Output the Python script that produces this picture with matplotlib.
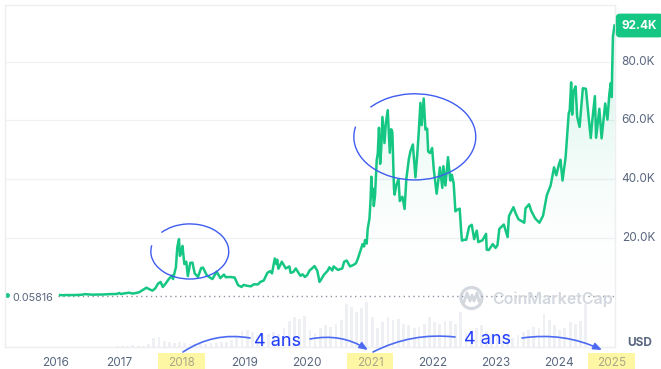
"""
Bitcoin all-time price chart (CoinMarketCap style) with hand-drawn cycle notes.
"""

import numpy as np
import pandas as pd
import matplotlib
matplotlib.use('Agg')
import matplotlib.pyplot as plt
from matplotlib.patches import Arc, Ellipse, Rectangle
from matplotlib.colors import LinearSegmentedColormap
from matplotlib.transforms import blended_transform_factory

plt.rcParams['font.family'] = ['Inter', 'DejaVu Sans']

# ---- data (price in thousands of USD) ----
dates = [
    "2016-01-25", "2016-02-10", "2016-03-01", "2016-04-01", "2016-05-01", "2016-06-01", "2016-06-17",
    "2016-07-01", "2016-08-02", "2016-09-01", "2016-10-01", "2016-11-01", "2016-12-01", "2016-12-20",
    "2017-01-04", "2017-01-12", "2017-02-01", "2017-03-01", "2017-03-24", "2017-04-15", "2017-05-01",
    "2017-05-25", "2017-06-11", "2017-06-27", "2017-07-16", "2017-08-01", "2017-08-17", "2017-09-01",
    "2017-09-14", "2017-10-01", "2017-10-20", "2017-11-07", "2017-11-12", "2017-11-29", "2017-12-07",
    "2017-12-17", "2017-12-22", "2017-12-28",
    "2018-01-06", "2018-01-17", "2018-01-28", "2018-02-06", "2018-02-20", "2018-03-05", "2018-03-18",
    "2018-04-06", "2018-04-24", "2018-05-05", "2018-05-28", "2018-06-12", "2018-06-29", "2018-07-24",
    "2018-08-14", "2018-09-04", "2018-09-15", "2018-10-10", "2018-11-05", "2018-11-25", "2018-12-15",
    "2018-12-28",
    "2019-01-15", "2019-02-07", "2019-02-24", "2019-03-20", "2019-04-03", "2019-04-23", "2019-05-14",
    "2019-05-30", "2019-06-10", "2019-06-26", "2019-07-05", "2019-07-10", "2019-07-17", "2019-08-06",
    "2019-08-29", "2019-09-19", "2019-09-26", "2019-10-12", "2019-10-26", "2019-11-22", "2019-12-05",
    "2019-12-18", "2019-12-31",
    "2020-01-14", "2020-02-12", "2020-02-28", "2020-03-12", "2020-03-22", "2020-04-06", "2020-04-29",
    "2020-05-08", "2020-05-25", "2020-06-02", "2020-06-27", "2020-07-22", "2020-08-02", "2020-08-17",
    "2020-09-05", "2020-09-25", "2020-10-10", "2020-10-21", "2020-11-05", "2020-11-17", "2020-11-26",
    "2020-12-01", "2020-12-11", "2020-12-17", "2020-12-27",
    "2021-01-03", "2021-01-08", "2021-01-12", "2021-01-16", "2021-01-22", "2021-01-29", "2021-02-08",
    "2021-02-14", "2021-02-21", "2021-02-28", "2021-03-07", "2021-03-13", "2021-03-25", "2021-04-02",
    "2021-04-13", "2021-04-25", "2021-05-03", "2021-05-10", "2021-05-13", "2021-05-19", "2021-05-23",
    "2021-06-02", "2021-06-15", "2021-06-22", "2021-07-07", "2021-07-20", "2021-07-30", "2021-08-14",
    "2021-08-23", "2021-09-06", "2021-09-21", "2021-10-01", "2021-10-09", "2021-10-20", "2021-10-27",
    "2021-11-08", "2021-11-18", "2021-11-28", "2021-12-04", "2021-12-15", "2021-12-27",
    "2022-01-05", "2022-01-22", "2022-02-10", "2022-02-24", "2022-03-02", "2022-03-14", "2022-03-29",
    "2022-04-11", "2022-04-20", "2022-05-01", "2022-05-11", "2022-05-20", "2022-06-05", "2022-06-13",
    "2022-06-18", "2022-07-01", "2022-07-13", "2022-07-30", "2022-08-14", "2022-08-28", "2022-09-12",
    "2022-09-21", "2022-10-15", "2022-11-05", "2022-11-09", "2022-11-21", "2022-12-14", "2022-12-30",
    "2023-01-10", "2023-01-21", "2023-02-16", "2023-03-10", "2023-03-18", "2023-04-13", "2023-04-26",
    "2023-05-12", "2023-06-15", "2023-06-22", "2023-07-13", "2023-07-25", "2023-08-17", "2023-09-11",
    "2023-10-02", "2023-10-24", "2023-11-15", "2023-12-05", "2023-12-18",
    "2024-01-02", "2024-01-11", "2024-01-23", "2024-02-10", "2024-02-28", "2024-03-05", "2024-03-13",
    "2024-03-19", "2024-03-27", "2024-04-08", "2024-04-17", "2024-05-01", "2024-05-20", "2024-06-07",
    "2024-06-24", "2024-07-05", "2024-07-14", "2024-07-29", "2024-08-05", "2024-08-24", "2024-09-06",
    "2024-09-17", "2024-09-27", "2024-10-10", "2024-10-21", "2024-10-29", "2024-11-04", "2024-11-06",
    "2024-11-11", "2024-11-20",
]
prices = [
    0.43, 0.37, 0.43, 0.42, 0.45, 0.54, 0.75,
    0.67, 0.55, 0.61, 0.61, 0.73, 0.75, 0.80,
    1.13, 0.78, 0.98, 1.22, 0.94, 1.18, 1.42,
    2.3, 2.95, 2.42, 1.93, 2.72, 4.3, 4.9,
    3.2, 4.4, 6.0, 7.1, 5.9, 9.9, 16.7,
    19.5, 13.8, 14.5,
    17.2, 11.0, 11.8, 6.9, 11.4, 11.5, 7.8,
    6.6, 9.6, 9.8, 7.1, 6.5, 5.9, 8.4,
    6.2, 7.4, 6.5, 6.6, 6.4, 3.8, 3.2,
    3.9,
    3.6, 3.4, 4.1, 4.05, 4.9, 5.4, 8.0,
    8.6, 7.8, 12.9, 11.0, 12.5, 9.4, 11.8,
    9.5, 10.2, 8.0, 8.3, 9.5, 7.0, 7.5,
    6.6, 7.2,
    8.8, 10.3, 8.7, 4.9, 5.8, 7.3, 8.8,
    9.9, 8.8, 10.2, 9.0, 9.5, 11.8, 12.2,
    10.2, 10.7, 11.3, 12.9, 15.6, 17.8, 17.0,
    19.2, 18.0, 23.1, 26.5,
    32.5, 40.8, 34.0, 36.8, 30.8, 34.3, 46.5,
    48.7, 57.5, 45.2, 51.2, 61.2, 52.3, 59.0,
    63.5, 49.0, 57.0, 56.0, 49.7, 37.0, 34.7,
    38.0, 40.0, 32.5, 34.0, 29.8, 40.0, 47.0,
    49.5, 51.8, 40.6, 48.0, 54.9, 66.0, 58.4,
    67.5, 56.9, 57.2, 49.4, 48.9, 50.6,
    43.5, 35.0, 44.0, 37.0, 44.4, 37.8, 47.5,
    39.5, 41.5, 38.5, 29.0, 29.5, 29.9, 22.5,
    19.0, 19.3, 19.3, 23.8, 24.4, 19.5, 22.4,
    18.5, 19.1, 21.3, 15.9, 15.8, 17.8, 16.5,
    17.4, 23.0, 24.5, 20.2, 27.4, 30.4, 28.3,
    26.3, 25.1, 30.0, 31.4, 29.2, 26.6, 25.1,
    27.5, 34.5, 37.8, 44.0, 41.3,
    45.0, 46.6, 39.5, 47.5, 62.5, 63.5, 73.0,
    62.0, 70.0, 71.6, 61.3, 57.8, 71.0, 70.8,
    60.3, 54.0, 60.0, 68.3, 54.1, 64.0, 53.9,
    60.3, 65.8, 60.3, 69.0, 72.7, 68.0, 76.0,
    88.7, 92.4,
]

# monthly average daily volume (billions USD), Jan 2016 .. Nov 2024
volume_start = "2016-01-01"
volumes = [
    0.1, 0.1, 0.1, 0.1, 0.1, 0.2, 0.2, 0.1, 0.1, 0.1, 0.1, 0.2,
    0.3, 0.3, 0.4, 0.4, 1.0, 1.3, 1.0, 2.0, 1.5, 1.8, 3.5, 12.0,
    13.0, 8.0, 6.5, 5.5, 7.0, 5.0, 4.5, 4.5, 4.2, 4.0, 5.0, 5.5,
    6.0, 6.5, 9.0, 14.0, 20.0, 22.0, 19.0, 16.0, 15.0, 17.0, 19.0, 17.0,
    24.0, 34.0, 38.0, 36.0, 40.0, 22.0, 18.0, 24.0, 28.0, 26.0, 30.0, 35.0,
    55.0, 52.0, 45.0, 50.0, 58.0, 38.0, 25.0, 32.0, 38.0, 35.0, 36.0, 30.0,
    28.0, 24.0, 26.0, 30.0, 38.0, 32.0, 30.0, 33.0, 34.0, 30.0, 45.0, 18.0,
    20.0, 24.0, 28.0, 20.0, 15.0, 17.0, 13.0, 14.0, 11.0, 15.0, 19.0, 22.0,
    26.0, 24.0, 42.0, 35.0, 28.0, 22.0, 24.0, 32.0, 30.0, 33.0, 55.0,
]

year_ticks = [2016, 2017, 2018, 2019, 2020, 2021, 2022, 2023, 2024, 2024.84]
year_labels = ['2016', '2017', '2018', '2019', '2020', '2021', '2022', '2023', '2024', '2025']
highlight_years = ['2018', '2021', '2025']
price_ticks = [20, 40, 60, 80]
price_labels = ['20.0K', '40.0K', '60.0K', '80.0K']
last_label = '92.4K'
min_label = '0.05816'
note_text = '4 ans'

GREEN = '#16c784'
GRAY = '#58667e'
BLUE = '#1f3cff'
PEN = '#3f5cf0'

W, H = 661, 369


def decyear(s):
    t = pd.Timestamp(s)
    return t.year + (t.dayofyear - 1) / 365.25


def fpx(x, y):
    """pixel (top-left origin) -> figure fraction"""
    return x / W, 1 - y / H


x = np.array([decyear(d) for d in dates])
y = np.array(prices)
vdates = pd.date_range(volume_start, periods=len(volumes), freq='MS')
vx = np.array([decyear(d) for d in vdates]) + 1 / 24

fig = plt.figure(figsize=(W / 100, H / 100), dpi=100)
rect = [5 / W, 22 / H, 610 / W, 342 / H]

# volume bars in their own axes, behind the price
vax = fig.add_axes(rect, zorder=0)
vax.bar(vx, volumes, width=0.045, color='#eef0f3', linewidth=0)
vax.set_ylim(0, 440)
vax.axis('off')

ax = fig.add_axes(rect, zorder=1)
ax.patch.set_visible(False)

# gradient area under the line
poly = ax.fill_between(x, y, 0, facecolor='none', edgecolor='none')
cmap = LinearSegmentedColormap.from_list(
    'fade', [(1, 1, 1, 0), (22 / 255, 199 / 255, 132 / 255, 0.24)])
grad = np.linspace(0, 1, 256).reshape(-1, 1)
im = ax.imshow(grad, extent=[x.min(), x.max(), 0, y.max()], origin='lower',
               aspect='auto', cmap=cmap, zorder=1)
im.set_clip_path(poly.get_paths()[0], transform=ax.transData)

ax.plot(x, y, color=GREEN, lw=1.8, solid_joinstyle='round', zorder=3)

xlim = (2015.19, 2024.895)
ax.set_xlim(*xlim)
ax.set_ylim(-17.3, 99.4)

for t in price_ticks:
    ax.axhline(t, color='#eff1f4', lw=0.9, zorder=0)
ax.plot([2016.03, xlim[1]], [0, 0], color='#8c95a5', lw=1, ls=(0, (1, 2.5)), zorder=2)

for s in ax.spines.values():
    s.set_color('#eceef1')
    s.set_linewidth(1)

ax.set_yticks([])
ax.set_xticks(year_ticks)
ax.set_xticklabels(year_labels)
ax.tick_params(axis='x', length=0, pad=7, labelsize=8.5, labelcolor=GRAY)

# highlighted year labels
btrans = blended_transform_factory(ax.transData, fig.transFigure)
for t, lab in zip(ax.get_xticklabels(), year_labels):
    if lab in highlight_years:
        t.set_color('#aaa78c')
        pos = year_ticks[year_labels.index(lab)]
        fig.add_artist(Rectangle((pos - 0.37, 0), 0.74, 16 / H, transform=btrans,
                                 facecolor='#fdf6a2', edgecolor='none', zorder=-1))

# right-hand labels
ytrans = ax.get_yaxis_transform()
for t, lab in zip(price_ticks, price_labels):
    ax.text(1.011, t, lab, transform=ytrans, ha='left', va='center',
            fontsize=8.5, color=GRAY, clip_on=False)
ax.text(1.011, y[-1], last_label, transform=ytrans, ha='left', va='center',
        fontsize=8.5, color='white', fontweight='bold', clip_on=False,
        bbox=dict(boxstyle='round,pad=0.5,rounding_size=0.35', fc=GREEN, ec='none'))
fig.text(*fpx(640, 343), 'USD', ha='center', va='center', fontsize=8.5,
         fontweight='bold', color=GRAY)

# minimum price label and dot
ax.text(0.0115, -0.6, min_label, transform=ytrans, ha='left', va='center',
        fontsize=7.8, color=GRAY)
ax.plot([xlim[0] + 0.03], [0.4], 'o', color=GREEN, ms=2.5, clip_on=False)

# watermark
cx, cy = fpx(471.5, 298)
fig.add_artist(Ellipse((cx, cy), 21 / W, 21 / H, transform=fig.transFigure,
                       fill=False, ec='#d3d7de', lw=2.2))
wx = [464, 467, 470, 472, 474, 477, 479]
wy = [302, 293, 301, 295, 301, 293, 301]
fig.add_artist(plt.Line2D([v / W for v in wx], [1 - v / H for v in wy],
                          transform=fig.transFigure, color='#d3d7de', lw=2))
fig.text(*fpx(492, 299), 'CoinMarketCap', ha='left', va='center',
         fontsize=11.5, fontweight='semibold', color='#d3d7de')

# hand-drawn circles around the two cycle peaks
ax.add_patch(Arc((2018.13, 15.3), 1.24, 18.8, theta1=106, theta2=454,
                 color=PEN, lw=1.0, zorder=4))
ax.add_patch(Arc((2021.71, 54.4), 1.94, 29.4, theta1=105, theta2=454,
                 color=PEN, lw=1.0, zorder=4))

# "4 ans" arrows
def curve(p0, p1, rad, head):
    ax.annotate('', xy=(p1[0], H - p1[1]), xytext=(p0[0], H - p0[1]),
                xycoords='figure pixels', textcoords='figure pixels',
                arrowprops=dict(arrowstyle='-|>,head_length=0.5,head_width=0.2' if head else '-',
                                color='#4d6bf2', lw=1.2, shrinkA=0, shrinkB=0,
                                connectionstyle=f'arc3,rad={rad}'),
                annotation_clip=False)


curve((183, 352), (250, 338), -0.2, False)
curve((310, 339), (368, 350), -0.2, True)
curve((373, 352), (455, 337), -0.15, False)
curve((522, 338), (602, 350), -0.15, True)
fig.text(*fpx(278, 341), note_text, ha='center', va='center', fontsize=13, color=BLUE)
fig.text(*fpx(487, 340), note_text, ha='center', va='center', fontsize=13, color=BLUE)

fig.savefig('out.png', dpi=100, facecolor='white')
